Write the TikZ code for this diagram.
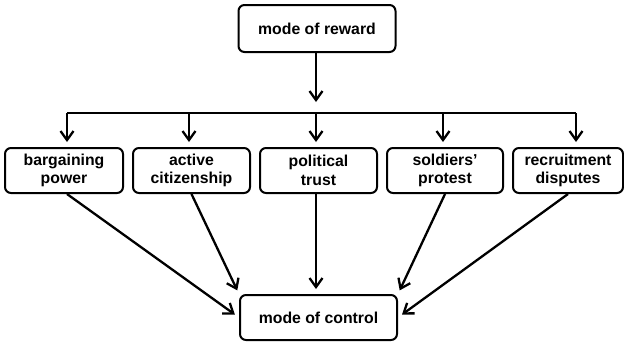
\documentclass[tikz,border=0pt]{standalone}
\usepackage{fontspec}
\setmainfont{Liberation Sans}
\usetikzlibrary{arrows.meta,calc}
\begin{document}
\begin{tikzpicture}[x=1pt,y=-1pt,
  box/.style={draw, line width=2pt, rounded corners=6pt, align=center,
    font=\fontsize{15.8}{18.5}\selectfont\bfseries, inner sep=0pt},
  arr/.style={line width=2.3pt, -{Straight Barb[length=9pt,width=13pt,line width=2.3pt]}},
  lin/.style={line width=2.3pt}]
\useasboundingbox (0,0) rectangle (624,341);
\node[box, minimum width=157pt, minimum height=47pt] (rw) at (317,28.5) {mode of reward};
\node[box, minimum width=118pt, minimum height=45pt] (bp) at (64,170.5) {bargaining\\power};
\node[box, minimum width=117pt, minimum height=45pt] (ac) at (191.5,170.5) {active\\citizenship};
\node[box, minimum width=117pt, minimum height=45pt] (pt) at (318.5,170.5) {political\\trust};
\node[box, minimum width=116pt, minimum height=45pt] (sp) at (445,170.5) {soldiers’\\protest};
\node[box, minimum width=110pt, minimum height=45pt] (rd) at (568,170.5) {recruitment\\disputes};
\node[box, minimum width=157pt, minimum height=45pt] (ct) at (318.5,317.5) {mode of control};
% distribution bar
\coordinate (hb) at (316,113);
\coordinate (h1) at (67,113);
\coordinate (h2) at (189,113);
\coordinate (h3) at (316,113);
\coordinate (h4) at (443,113);
\coordinate (h5) at (576,113);
\draw[arr, shorten >=11pt] (rw.south -| hb) -- (hb);
\draw[lin] (h1) -- (h5);
\draw[arr, shorten >=5pt] (h1) -- (h1 |- bp.north);
\draw[arr, shorten >=5pt] (h2) -- (h2 |- ac.north);
\draw[arr, shorten >=5pt] (h3) -- (h3 |- pt.north);
\draw[arr, shorten >=5pt] (h4) -- (h4 |- sp.north);
\draw[arr, shorten >=5pt] (h5) -- (h5 |- rd.north);
% into control
\draw[arr, shorten >=5pt] ($(bp.south)+(3,0)$) -- (ct.west);
\draw[arr, shorten >=4pt] (ac.south) -- (ct.north west);
\draw[arr, shorten >=5pt] (pt.south -| h3) -- (ct.north -| h3);
\draw[arr, shorten >=4pt] (sp.south) -- (ct.north east);
\draw[arr, shorten >=5pt] (rd.south) -- (ct.east);
\end{tikzpicture}
\end{document}
